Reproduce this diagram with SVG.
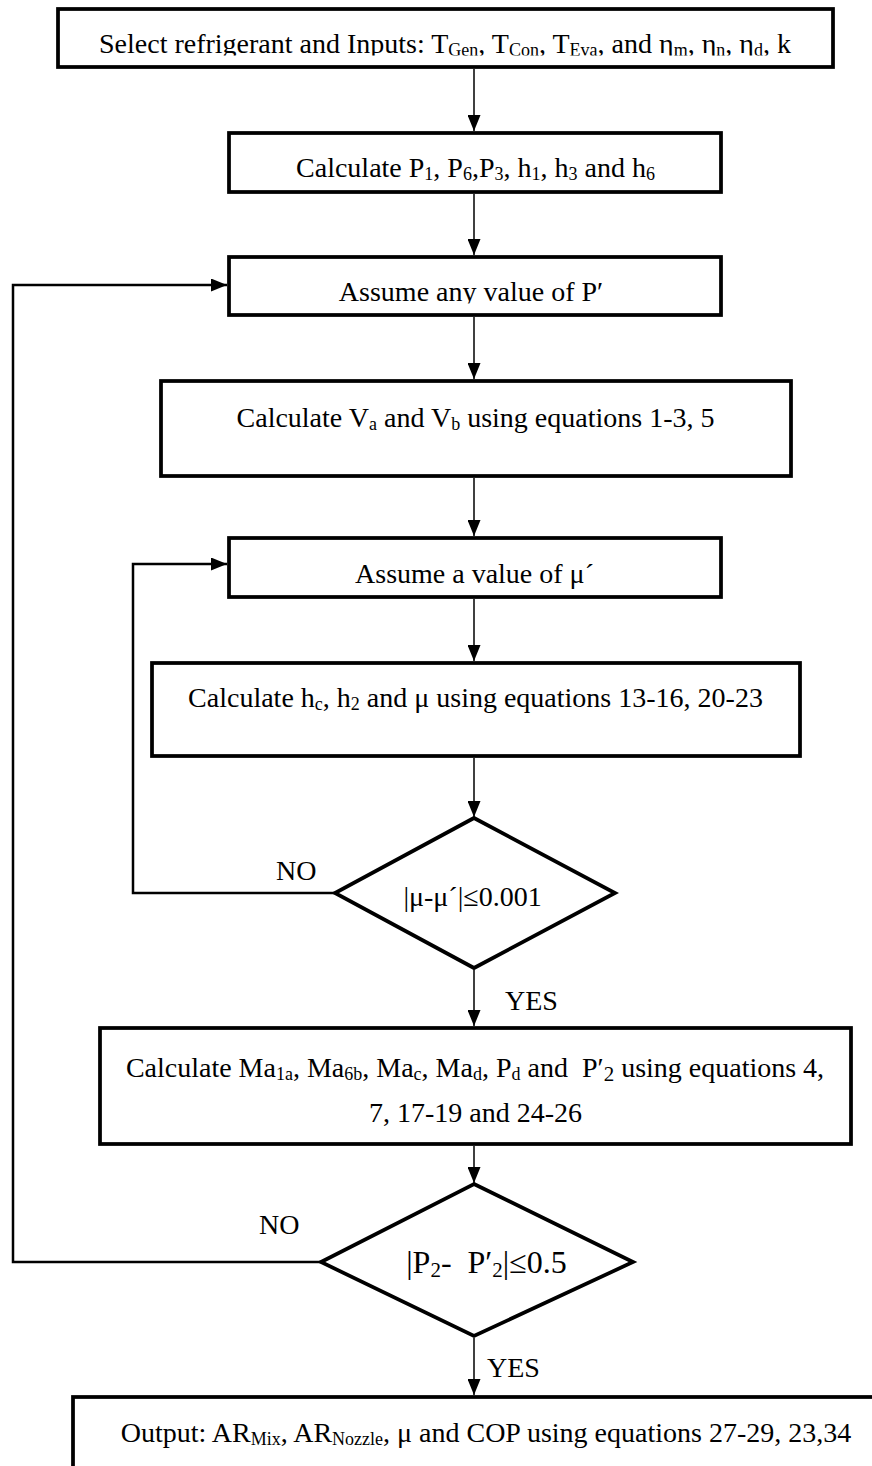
<svg xmlns="http://www.w3.org/2000/svg" width="872" height="1466" viewBox="0 0 872 1466">
<style>
.box{fill:#fff;stroke:#000;stroke-width:3.75}
.t{font-family:"Liberation Serif","Times New Roman",serif;font-size:28px;fill:#000;text-anchor:middle}
.l{text-anchor:start}
.s{font-size:18px}
.conn{stroke:#000;stroke-width:1.5;fill:none}
.loop{stroke:#000;stroke-width:2.5;fill:none}
</style>
<defs>
<marker id="ah" markerWidth="16" markerHeight="13" refX="16" refY="6.5" orient="auto" markerUnits="userSpaceOnUse"><path d="M0,0 L16,6.5 L0,13 z" fill="#000"/></marker>
<clipPath id="c1"><rect x="60" y="11" width="771" height="44.5"/></clipPath>
<clipPath id="c3"><rect x="231" y="259" width="488" height="44.5"/></clipPath>
</defs>
<rect width="872" height="1466" fill="#fff"/>
<g id="connectors">
<path class="conn" d="M474,69 V131" marker-end="url(#ah)"/>
<path class="conn" d="M474,194 V255" marker-end="url(#ah)"/>
<path class="conn" d="M474,317 V379" marker-end="url(#ah)"/>
<path class="conn" d="M474,478 V536" marker-end="url(#ah)"/>
<path class="conn" d="M474,599 V661" marker-end="url(#ah)"/>
<path class="conn" d="M474,758 V817" marker-end="url(#ah)"/>
<path class="conn" d="M474,970 V1026" marker-end="url(#ah)"/>
<path class="conn" d="M474,1146 V1183" marker-end="url(#ah)"/>
<path class="conn" d="M474,1338 V1395" marker-end="url(#ah)"/>
<path class="loop" d="M335,893 H133 V564 H227" marker-end="url(#ah)"/>
<path class="loop" d="M321,1262 H13 V285 H227" marker-end="url(#ah)"/>
<text class="t l" x="276" y="880">NO</text>
<text class="t l" x="505" y="1010">YES</text>
<text class="t l" x="259" y="1234">NO</text>
<text class="t l" x="487" y="1377">YES</text>
</g>
<g id="n1">
<rect class="box" x="58" y="9" width="775" height="58"/>
<g clip-path="url(#c1)"><text class="t" x="445" y="52.5">Select refrigerant and Inputs: T<tspan class="s" dy="3">Gen</tspan><tspan dy="-3">, T</tspan><tspan class="s" dy="3">Con</tspan><tspan dy="-3">, T</tspan><tspan class="s" dy="3">Eva</tspan><tspan dy="-3">, and η</tspan><tspan class="s" dy="3">m</tspan><tspan dy="-3">, η</tspan><tspan class="s" dy="3">n</tspan><tspan dy="-3">, η</tspan><tspan class="s" dy="3">d</tspan><tspan dy="-3">, k</tspan></text></g>
</g>
<g id="n2">
<rect class="box" x="229" y="133" width="492" height="59"/>
<text class="t" x="475.5" y="177">Calculate P<tspan class="s" dy="3">1</tspan><tspan dy="-3">, P</tspan><tspan class="s" dy="3">6</tspan><tspan dy="-3">,P</tspan><tspan class="s" dy="3">3</tspan><tspan dy="-3">, h</tspan><tspan class="s" dy="3">1</tspan><tspan dy="-3">, h</tspan><tspan class="s" dy="3">3</tspan><tspan dy="-3"> and h</tspan><tspan class="s" dy="3">6</tspan></text>
</g>
<g id="n3">
<rect class="box" x="229" y="257" width="492" height="58"/>
<g clip-path="url(#c3)"><text class="t" x="471" y="301">Assume any value of P′</text></g>
</g>
<g id="n4">
<rect class="box" x="161" y="381" width="630" height="95"/>
<text class="t" x="475.5" y="427">Calculate V<tspan class="s" dy="3">a</tspan><tspan dy="-3"> and V</tspan><tspan class="s" dy="3">b</tspan><tspan dy="-3"> using equations 1-3, 5</tspan></text>
</g>
<g id="n5">
<rect class="box" x="229" y="538" width="492" height="59"/>
<text class="t" x="474.5" y="583">Assume a value of μ´</text>
</g>
<g id="n6">
<rect class="box" x="152" y="663" width="648" height="93"/>
<text class="t" x="475.5" y="707">Calculate h<tspan class="s" dy="3">c</tspan><tspan dy="-3">, h</tspan><tspan class="s" dy="3">2</tspan><tspan dy="-3"> and μ using equations 13-16, 20-23</tspan></text>
</g>
<g id="n7">
<polygon class="box" points="474,818 615,893 474,968 335,893"/>
<text class="t" x="472.5" y="906">|μ-μ´|≤0.001</text>
</g>
<g id="n8">
<rect class="box" x="100" y="1028" width="751" height="116"/>
<text class="t" x="475" y="1077" xml:space="preserve">Calculate Ma<tspan class="s" dy="3">1a</tspan><tspan dy="-3">, Ma</tspan><tspan class="s" dy="3">6b</tspan><tspan dy="-3">, Ma</tspan><tspan class="s" dy="3">c</tspan><tspan dy="-3">, Ma</tspan><tspan class="s" dy="3">d</tspan><tspan dy="-3">, P</tspan><tspan class="s" dy="3">d</tspan><tspan dy="-3"> and  P′</tspan><tspan style="font-size:21px" dy="4">2</tspan><tspan dy="-4"> using equations 4,</tspan></text>
<text class="t" x="475.5" y="1122">7, 17-19 and 24-26</text>
</g>
<g id="n9">
<polygon class="box" points="474,1184 633,1262 474,1336 321,1262"/>
<text class="t" x="486.5" y="1273" style="font-size:32px" xml:space="preserve">|P<tspan style="font-size:21px" dy="4">2</tspan><tspan dy="-4">-  P′</tspan><tspan style="font-size:21px" dy="4">2</tspan><tspan dy="-4">|≤0.5</tspan></text>
</g>
<g id="n10">
<rect class="box" x="73" y="1397" width="830" height="100"/>
<text class="t" x="486" y="1442">Output: AR<tspan class="s" dy="3">Mix</tspan><tspan dy="-3">, AR</tspan><tspan class="s" dy="3">Nozzle</tspan><tspan dy="-3">, μ and COP using equations 27-29, 23,34</tspan></text>
</g>
</svg>
